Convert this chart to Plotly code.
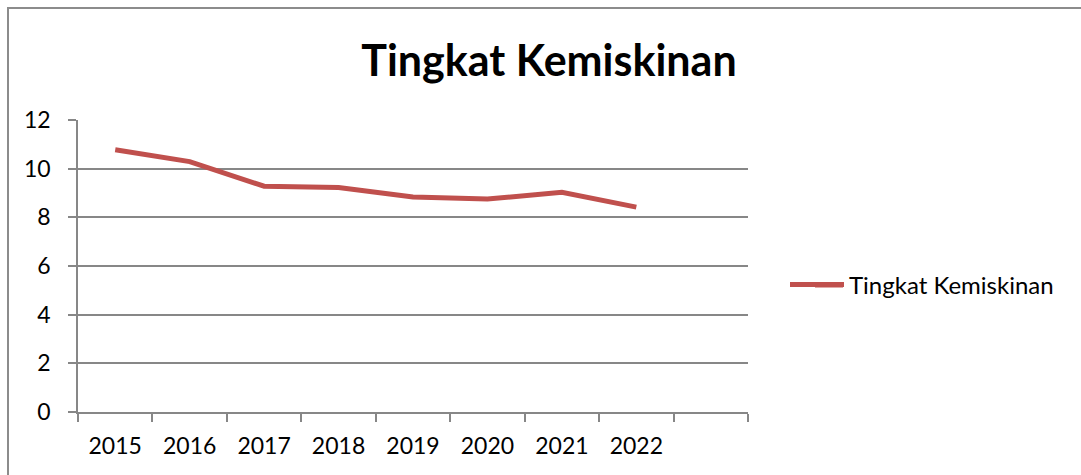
import plotly.graph_objects as go

categories = ["2015", "2016", "2017", "2018", "2019", "2020", "2021", "2022"]
axis_slots = categories + [" "]
values = [10.78, 10.29, 9.28, 9.23, 8.84, 8.75, 9.03, 8.42]
series_name = "Tingkat Kemiskinan"
title_text = "Tingkat Kemiskinan"
y_ticks = [0, 2, 4, 6, 8, 10, 12]

W, H = 1081, 475
L, R, T, B = 78, 333, 120, 63
PW, PH = W - L - R, H - T - B
FONT = "Lato, 'Open Sans', sans-serif"
GRID = "#878787"
LINE_COLOR = "#C0504D"

LEG_X = 785          # legend left edge, px
LEG_Y = 285          # legend item centre, px
ITEM_W = 54

fig = go.Figure()
fig.add_trace(go.Scatter(
    x=categories, y=values, mode="lines", name=series_name,
    line=dict(color=LINE_COLOR, width=5), showlegend=True,
))

fig.update_layout(
    width=W, height=H,
    margin=dict(l=L, r=R, t=T, b=B, pad=0),
    paper_bgcolor="white", plot_bgcolor="white",
    font=dict(family=FONT, size=23, color="black"),
    title=dict(text="<b>" + title_text + "</b>", font=dict(family=FONT, size=43, color="black"),
               xref="container", yref="container", x=549 / W, y=1 - 61 / H,
               xanchor="center", yanchor="middle"),
    legend=dict(x=(LEG_X - L) / PW, y=(H - B - LEG_Y) / PH,
                xanchor="left", yanchor="middle", bgcolor="rgba(0,0,0,0)",
                borderwidth=0, font=dict(family=FONT, size=24, color="black"),
                itemwidth=ITEM_W),
    showlegend=True,
    xaxis=dict(type="category", categoryorder="array", categoryarray=axis_slots,
               range=[-0.5, len(axis_slots) - 0.5], tickson="boundaries",
               ticks="outside", ticklen=8, tickcolor=GRID, tickwidth=1.5,
               showline=True, linecolor=GRID, linewidth=1.5, showgrid=False,
               zeroline=False, ticklabelstandoff=13, fixedrange=True),
    yaxis=dict(range=[0, 12], tickvals=y_ticks, ticks="outside", ticklen=8,
               tickcolor=GRID, tickwidth=1.5, showline=True, linecolor=GRID,
               linewidth=1.5, showgrid=True, gridcolor=GRID, gridwidth=1.5,
               zeroline=False, ticklabelstandoff=13, fixedrange=True),
)

# extend the legend sample line to Excel's longer sample
fig.add_shape(type="line", xref="paper", yref="paper",
              x0=(LEG_X + 30 - L) / PW, x1=(843 - L) / PW,
              y0=(H - B - LEG_Y) / PH, y1=(H - B - LEG_Y) / PH,
              line=dict(color=LINE_COLOR, width=5))

# Chart frame border (Excel-style chart area outline)
fig.add_shape(type="rect", xref="paper", yref="paper",
              x0=(8 - L) / PW, x1=(W + 20 - L) / PW,
              y0=-(B + 20) / PH, y1=1 + (T - 8) / PH,
              line=dict(color="#8C8C8C", width=2), layer="below")

fig.write_html("out.html")
